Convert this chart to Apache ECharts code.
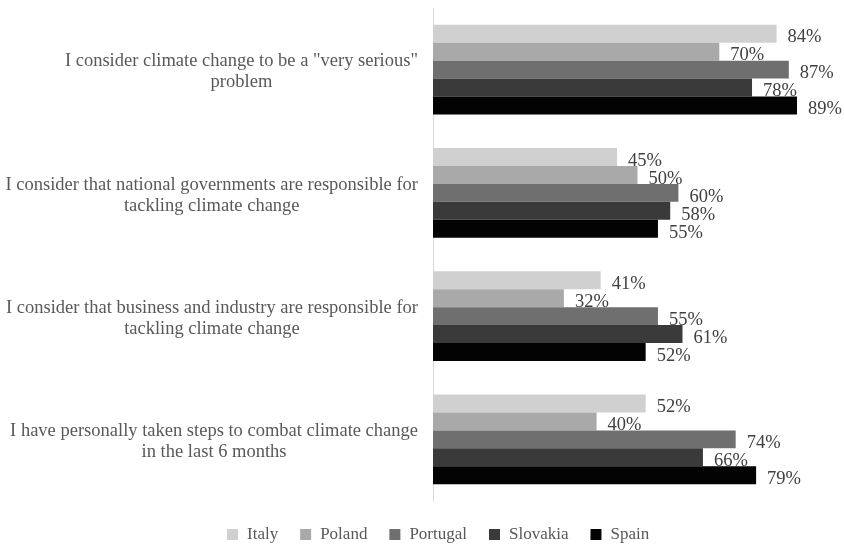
<!DOCTYPE html>
<html>
<head>
<meta charset="utf-8">
<script src="https://cdn.jsdelivr.net/npm/echarts@6/dist/echarts.min.js"></script>
<style>html,body{margin:0;padding:0;background:#fff}#c{width:844px;height:544px}</style>
</head>
<body>
<div id="c"></div>
<script>
const categories = [
  'I consider climate change to be a "very serious"\nproblem',
  'I consider that national governments are responsible for\ntackling climate change',
  'I consider that business and industry are responsible for\ntackling climate change',
  'I have personally taken steps to combat climate change\nin the last 6 months'
];
const seriesNames = ['Italy', 'Poland', 'Portugal', 'Slovakia', 'Spain'];
const italy    = [84, 45, 41, 52];
const poland   = [70, 50, 32, 40];
const portugal = [87, 60, 55, 74];
const slovakia = [78, 58, 61, 66];
const spain    = [89, 55, 52, 79];
const values = [italy, poland, portugal, slovakia, spain];
const colors = ['#d0d0d0', '#a9a9a9', '#6f6f6f', '#3a3a3a', '#030303'];

const FONT = '"Liberation Serif", "Times New Roman", serif';

const chart = echarts.init(document.getElementById('c'), null, {renderer: 'canvas'});
chart.setOption({
  animation: false,
  color: colors,
  grid: {left: 433, right: 2, top: 8, bottom: 43, containLabel: false},
  legend: {
    top: 521,
    left: 222,
    itemWidth: 11,
    itemHeight: 11,
    itemGap: 22,
    icon: 'rect',
    data: seriesNames,
    textStyle: {fontFamily: FONT, fontSize: 17, color: '#595959', padding: [0, 0, 0, 4]}
  },
  xAxis: {
    type: 'value',
    min: 0,
    max: 100,
    show: false,
    splitLine: {show: false}
  },
  yAxis: {
    type: 'category',
    inverse: true,
    data: categories,
    axisLine: {show: true, lineStyle: {color: '#d9d9d9', width: 1}},
    axisTick: {show: false},
    axisLabel: {
      margin: 15,
      align: 'right',
      padding: [5, 0, 0, 0],
      formatter: function (v) { return v.split('\n').map(s => '{a|' + s + '}').join('\n'); },
      rich: {a: {fontFamily: FONT, fontSize: 18.5, color: '#595959', align: 'center', lineHeight: 21}}
    }
  },
  series: seriesNames.map((name, i) => ({
    name: name,
    type: 'bar',
    data: values[i],
    barGap: '0%',
    barCategoryGap: '27%',
    itemStyle: {color: colors[i]},
    label: {
      show: true,
      position: 'right',
      distance: 11,
      offset: [0, 4],
      formatter: '{c}%',
      fontFamily: FONT,
      fontSize: 18.5,
      color: '#404040'
    }
  }))
});
</script>
</body>
</html>
